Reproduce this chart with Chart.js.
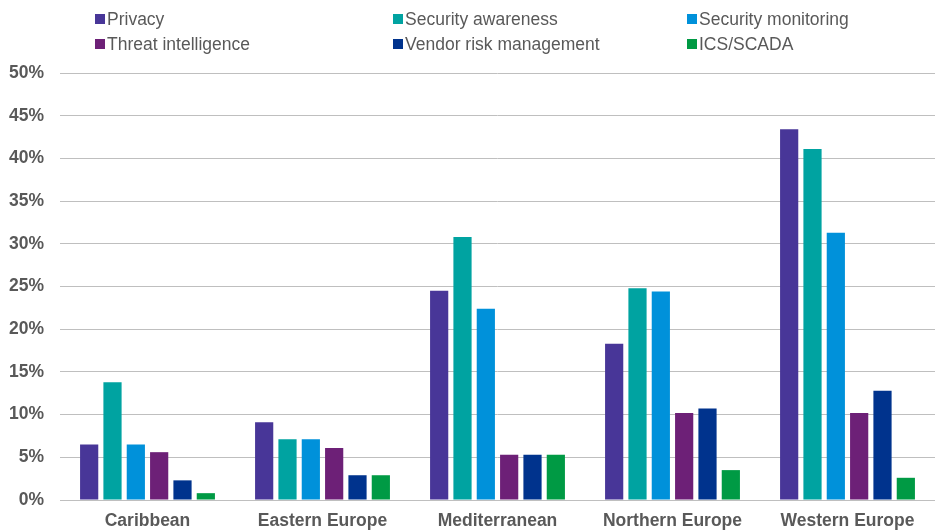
<!DOCTYPE html>
<html>
<head>
<meta charset="utf-8">
<script src="https://cdn.jsdelivr.net/npm/chart.js@4/dist/chart.umd.min.js"></script>
<style>
  html, body { margin: 0; padding: 0; background: #fff; overflow: hidden; }
  #wrap { position: relative; width: 935px; height: 531px; }
  #c { position: absolute; left: 0; top: 0; }
  #legend { position: absolute; left: 0; top: 0; width: 935px; height: 60px; font-family: "Liberation Sans", Arial, sans-serif; font-size: 17.5px; color: #595959; }
  .item { position: absolute; height: 20px; line-height: 20px; white-space: nowrap; }
  .sw { position: absolute; width: 10px; height: 10px; top: 5px; }
</style>
</head>
<body>
<div id="wrap">
  <canvas id="c" width="935" height="531"></canvas>
  <div id="legend"></div>
</div>
<script>
const categories = ["Caribbean", "Eastern Europe", "Mediterranean", "Northern Europe", "Western Europe"];
const seriesNames = ["Privacy", "Security awareness", "Security monitoring", "Threat intelligence", "Vendor risk management", "ICS/SCADA"];
const privacy = [6.5, 9.1, 24.5, 18.3, 43.4];
const securityAwareness = [13.8, 7.1, 30.8, 24.8, 41.1];
const securityMonitoring = [6.5, 7.1, 22.4, 24.4, 31.3];
const threatIntelligence = [5.6, 6.1, 5.3, 10.2, 10.2];
const vendorRisk = [2.3, 2.9, 5.3, 10.7, 12.8];
const icsScada = [0.8, 2.9, 5.3, 3.5, 2.6];
const yTicks = [0, 5, 10, 15, 20, 25, 30, 35, 40, 45, 50];
const colors = ["#483698", "#00A3A1", "#0091DA", "#6D2077", "#00338D", "#009A44"];

const seriesValues = [privacy, securityAwareness, securityMonitoring, threatIntelligence, vendorRisk, icsScada];

// HTML legend (2 rows x 3 columns): text start x, row center y
const legendPos = [[107, 19], [405, 19], [699, 19], [107, 44], [405, 44], [699, 44]];
const legendEl = document.getElementById('legend');
seriesNames.forEach((n, i) => {
  const d = document.createElement('div');
  d.className = 'item';
  d.style.left = legendPos[i][0] + 'px';
  d.style.top = (legendPos[i][1] - 10) + 'px';
  const s = document.createElement('span');
  s.className = 'sw';
  s.style.left = '-12px';
  s.style.background = colors[i];
  const t = document.createElement('span');
  t.textContent = n;
  d.appendChild(s); d.appendChild(t);
  legendEl.appendChild(d);
});

new Chart(document.getElementById('c'), {
  type: 'bar',
  data: {
    labels: categories,
    datasets: seriesNames.map((n, i) => ({
      label: n,
      data: seriesValues[i],
      backgroundColor: colors[i],
      borderWidth: 0,
      categoryPercentage: 0.80,
      barPercentage: 0.78
    }))
  },
  options: {
    responsive: false,
    animation: false,
    layout: { padding: { top: 73, right: 0, bottom: 0, left: 0 } },
    plugins: { legend: { display: false }, tooltip: { enabled: false } },
    scales: {
      x: {
        afterFit: (s) => { s.height = 31; },
        grid: { display: false, drawTicks: false },
        border: { display: true, color: '#BFBFBF', width: 1 },
        ticks: { color: '#595959', font: { family: 'Liberation Sans, Arial, sans-serif', size: 17.5, weight: 'bold' }, padding: 11, maxRotation: 0, autoSkip: false }
      },
      y: {
        min: 0, max: 50,
        afterBuildTicks: (s) => { s.ticks = yTicks.map(v => ({ value: v })); },
        afterFit: (s) => { s.width = 60; },
        grid: { color: '#BFBFBF', lineWidth: 1, drawTicks: false },
        border: { display: false },
        ticks: {
          color: '#595959',
          font: { family: 'Liberation Sans, Arial, sans-serif', size: 17.5, weight: 'bold' },
          padding: 16,
          callback: (v) => v + '%'
        }
      }
    }
  }
});
</script>
</body>
</html>
